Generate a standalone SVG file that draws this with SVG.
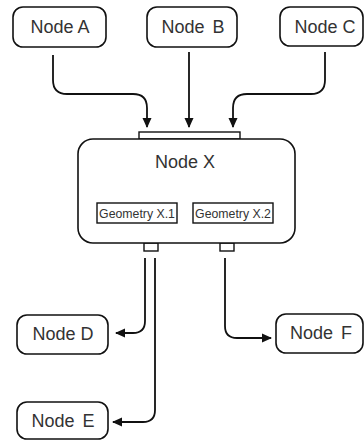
<svg xmlns="http://www.w3.org/2000/svg" width="364" height="442" viewBox="0 0 364 442">
  <style>
    .box { fill: #ffffff; stroke: #111111; stroke-width: 1.6; }
    .port { fill: #ffffff; stroke: #111111; stroke-width: 1.4; }
    .label { font-family: "Liberation Sans", Arial, sans-serif; font-size: 18px; fill: #333333; text-anchor: middle; }
    .small { font-family: "Liberation Sans", Arial, sans-serif; font-size: 12.3px; fill: #333333; text-anchor: middle; }
    .wire { fill: none; stroke: #111111; stroke-width: 1.8; marker-end: url(#head); }
  </style>
  <defs>
    <marker id="head" markerWidth="10" markerHeight="10" refX="9" refY="5" orient="auto" markerUnits="userSpaceOnUse">
      <path d="M0,0.5 L10,5 L0,9.5 Z" fill="#111111"/>
    </marker>
  </defs>

  <rect width="364" height="442" fill="#ffffff"/>

  <!-- connectors -->
  <g id="connectors">
    <path class="wire" d="M53,55 V80 Q53,94 67,94 H133 Q147,94 147,108 V127"/>
    <path class="wire" d="M189,52 V127"/>
    <path class="wire" d="M325,52 V80 Q325,94 311,94 H247 Q233,94 233,108 V127"/>
    <path class="wire" d="M145,258 V321 Q145,333 133,333 H116"/>
    <path class="wire" d="M155,258 V410 Q155,422 143,422 H113"/>
    <path class="wire" d="M225,258 V326 Q225,338 237,338 H271"/>
  </g>

  <g id="node-a">
    <rect class="box" x="13" y="7" width="93" height="40" rx="10"/>
    <text class="label" x="60" y="33">Node A</text>
  </g>
  <g id="node-b">
    <rect class="box" x="147" y="7" width="90" height="40" rx="10"/>
    <text class="label" x="193" y="33">Node <tspan dx="3">B</tspan></text>
  </g>
  <g id="node-c">
    <rect class="box" x="280" y="7" width="83" height="39" rx="10"/>
    <text class="label" x="325" y="33">Node C</text>
  </g>

  <g id="node-x">
    <rect class="port" x="139" y="132" width="101" height="7"/>
    <rect class="port" x="144" y="243" width="14" height="8"/>
    <rect class="port" x="220" y="243" width="14" height="8"/>
    <rect class="box" x="78" y="139" width="217" height="104" rx="15"/>
    <text class="label" x="185" y="168">Node X</text>
    <g id="geometry-x1">
      <rect class="port" x="97" y="203" width="80" height="20"/>
      <text class="small" x="137" y="217.5">Geometry X.1</text>
    </g>
    <g id="geometry-x2">
      <rect class="port" x="193" y="203" width="80" height="20"/>
      <text class="small" x="233" y="217.5">Geometry X.2</text>
    </g>
  </g>

  <g id="node-d">
    <rect class="box" x="17" y="315" width="91" height="39" rx="10"/>
    <text class="label" x="63" y="340">Node D</text>
  </g>
  <g id="node-e">
    <rect class="box" x="17" y="402" width="91" height="37" rx="10"/>
    <text class="label" x="63" y="427">Node <tspan dx="3">E</tspan></text>
  </g>
  <g id="node-f">
    <rect class="box" x="276" y="314" width="87" height="39" rx="10"/>
    <text class="label" x="321" y="339">Node <tspan dx="3">F</tspan></text>
  </g>
</svg>
